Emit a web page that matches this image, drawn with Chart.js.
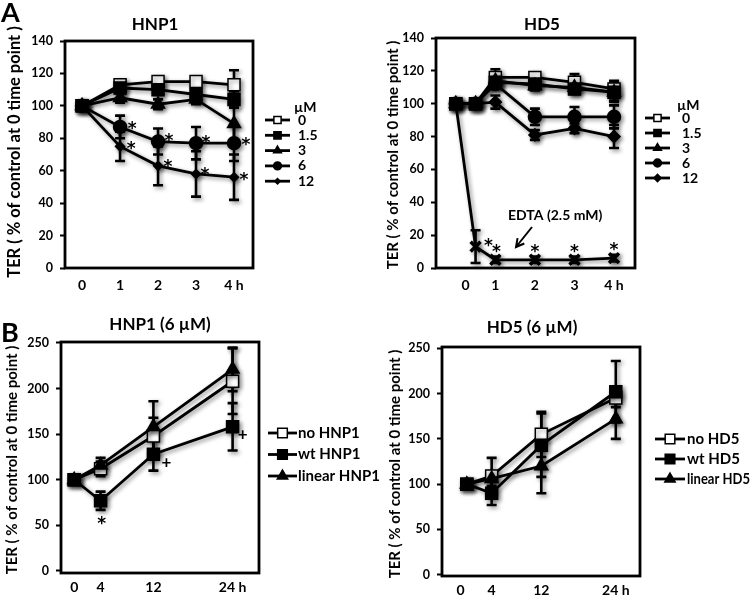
<!DOCTYPE html>
<html>
<head>
<meta charset="utf-8">
<script src="https://cdn.jsdelivr.net/npm/chart.js@4.4.1/dist/chart.umd.min.js"></script>
<style>
  html, body { margin: 0; padding: 0; background: #fff; }
  body { width: 751px; height: 603px; position: relative; overflow: hidden; }
  canvas { position: absolute; }
</style>
</head>
<body>
<canvas id="aHnp1" width="375" height="300" style="left:0;top:0"></canvas>
<canvas id="aHd5" width="376" height="300" style="left:375px;top:0"></canvas>
<canvas id="bHd5" width="376" height="303" style="left:375px;top:300px"></canvas>
<canvas id="bHnp1" width="392" height="303" style="left:0;top:300px"></canvas>
<script>
// ---- data ----
const concLabels = ['0', '1.5', '3', '6', '12'];
const yTicksA = [0, 20, 40, 60, 80, 100, 120, 140];
const yTicksB = [0, 50, 100, 150, 200, 250];

// A, HNP1 (hours)
const aHnp1Hours = [0, 1, 2, 3, 4];
const aHnp1Ticks = [0, 1, 2, 3, 4];
const aHnp1TickLabels = ['0', '1', '2', '3', '4 h'];
const aHnp1_0 = [100, 113, 115, 115, 113];
const aHnp1_0Err = [0, 2, 2, 2, 9];
const aHnp1_15 = [100, 111, 110, 107, 104];
const aHnp1_15Err = [0, 3, 3, 3, 5];
const aHnp1_3 = [100, 105, 101, 104, 89];
const aHnp1_3Err = [0, 3, 3, 3, 10];
const aHnp1_6 = [100, 87, 78, 77, 77];
const aHnp1_6Err = [0, 7, 8, 10, 11];
const aHnp1_6Sig = ['', '*', '*', '*', '*'];
const aHnp1_12 = [100, 75, 63, 58, 56];
const aHnp1_12Err = [0, 9, 12, 14, 14];
const aHnp1_12Sig = ['', '*', '*', '*', '*'];

// A, HD5 (hours)
const aHd5Hours = [0, 0.5, 1, 2, 3, 4];
const aHd5Ticks = [0.25, 1, 2, 3, 4];
const aHd5TickLabels = ['0', '1', '2', '3', '4 h'];
const aHd5_0 = [100, 100, 116, 116, 113, 109];
const aHd5_0Err = [0, 0, 5, 2, 5, 5];
const aHd5_15 = [100, 100, 113, 112, 109, 107];
const aHd5_15Err = [0, 0, 3, 3, 3, 6];
const aHd5_3 = [100, 100, 114, 111, 110, 107];
const aHd5_3Err = [0, 0, 3, 3, 3, 5];
const aHd5_6 = [100, 100, 112, 92, 92, 92];
const aHd5_6Err = [0, 0, 3, 5, 6, 7];
const aHd5_12 = [100, 100, 101, 81, 85, 80];
const aHd5_12Err = [0, 0, 4, 3, 3, 7];
const aEdta = [100, 13, 5, 5, 5, 6];
const aEdtaErr = [0, 10, 2, 2, 2, 2];
const aEdtaSig = ['', '*', '*', '*', '*', '*'];

// B (hours)
const bHours = [0, 4, 12, 24];
const bHnp1Ticks = [0, 4, 12, 24];
const bHd5Ticks = [-1, 4, 12, 24];
const bTickLabels = ['0', '4', '12', '24 h'];
const bNoHnp1 = [100, 112, 148, 208];
const bNoHnp1Err = [0, 8, 20, 36];
const bWtHnp1 = [100, 77, 128, 158];
const bWtHnp1Err = [0, 10, 18, 26];
const bWtHnp1Sig = ['', '*', '+', '+'];
const bLinHnp1 = [100, 116, 158, 221];
const bLinHnp1Err = [0, 8, 28, 24];
const bNoHd5 = [100, 109, 155, 195];
const bNoHd5Err = [0, 20, 25, 10];
const bWtHd5 = [100, 90, 143, 202];
const bWtHd5Err = [0, 13, 35, 34];
const bLinHd5 = [100, 106, 120, 172];
const bLinHd5Err = [0, 8, 30, 22];

const Y_TITLE = 'TER ( % of control at 0 time point )';

Chart.defaults.font.family = 'Lato';
Chart.defaults.color = '#000';

const markers = {
  open:     { pointStyle: 'rect', fill: '#fff', radius: 8.5 },
  square:   { pointStyle: 'rect', fill: '#000', radius: 8.5 },
  triangle: { pointStyle: 'triangle', fill: '#000', radius: 7.5 },
  circle:   { pointStyle: 'circle', fill: '#000', radius: 6.5 },
  diamond:  { pointStyle: 'rectRot', fill: '#000', radius: 6 },
  cross:    { pointStyle: 'crossRot', fill: '#000', radius: 7 }
};

function series(label, xs, ys, err, marker, order, extra) {
  const m = markers[marker];
  return Object.assign({
    label,
    data: xs.map((x, i) => ({ x, y: ys[i] })),
    errors: err,
    order,
    showLine: true,
    borderColor: '#000',
    borderWidth: 2.8,
    pointStyle: m.pointStyle,
    pointRadius: m.radius,
    pointHoverRadius: m.radius,
    pointBackgroundColor: m.fill,
    pointBorderColor: '#000',
    pointBorderWidth: marker === 'cross' ? 3.5 : 1.5
  }, extra || {});
}

const figurePlugin = {
  id: 'figure',
  beforeDatasetsDraw(chart) {
    const ctx = chart.ctx, xs = chart.scales.x, ys = chart.scales.y;
    ctx.save();
    ctx.shadowColor = 'rgba(0,0,0,0.45)';
    ctx.shadowBlur = 4;
    ctx.shadowOffsetX = 2;
    ctx.shadowOffsetY = 2;
    // error bars, behind the markers
    ctx.strokeStyle = '#000';
    ctx.lineWidth = 2.6;
    chart.data.datasets.forEach(ds => {
      (ds.errors || []).forEach((e, i) => {
        if (!e) return;
        const p = ds.data[i];
        const x = xs.getPixelForValue(p.x);
        const y1 = ys.getPixelForValue(p.y + e);
        const y2 = ys.getPixelForValue(p.y - e);
        ctx.beginPath();
        ctx.moveTo(x, y1); ctx.lineTo(x, y2);
        ctx.moveTo(x - 5, y1); ctx.lineTo(x + 5, y1);
        ctx.moveTo(x - 5, y2); ctx.lineTo(x + 5, y2);
        ctx.stroke();
      });
    });
  },
  afterDatasetsDraw(chart) {
    chart.ctx.restore();
  },
  afterDraw(chart, args, o) {
    const ctx = chart.ctx, a = chart.chartArea;
    const xs = chart.scales.x, ys = chart.scales.y;
    ctx.save();
    ctx.strokeStyle = '#000';
    ctx.fillStyle = '#000';
    ctx.lineWidth = 2.8;
    ctx.strokeRect(a.left, a.top, a.right - a.left, a.bottom - a.top);

    (o.texts || []).forEach(t => {
      ctx.save();
      ctx.font = t.font;
      ctx.textAlign = t.align || 'center';
      ctx.textBaseline = 'middle';
      if (t.rotate) {
        ctx.translate(t.x, t.y);
        ctx.rotate(-Math.PI / 2);
        ctx.fillText(t.text, 0, 0);
      } else {
        ctx.fillText(t.text, t.x, t.y);
      }
      ctx.restore();
    });

    // legend: line + marker + label
    const L = o.legend;
    L.items.forEach((di, k) => {
      const ds = chart.data.datasets[di];
      const y = L.y + k * L.dy;
      ctx.lineWidth = 2.8;
      ctx.beginPath(); ctx.moveTo(L.x0, y); ctx.lineTo(L.x1, y); ctx.stroke();
      ctx.fillStyle = ds.pointBackgroundColor;
      ctx.lineWidth = 1.5;
      Chart.helpers.drawPoint(ctx, {
        pointStyle: ds.pointStyle, rotation: 0,
        radius: ds.pointRadius * L.scale, borderWidth: 1.5
      }, (L.x0 + L.x1) / 2, y);
      ctx.fillStyle = '#000';
      ctx.font = L.font;
      ctx.textAlign = 'left';
      ctx.textBaseline = 'middle';
      if (L.maxWidth) ctx.fillText(ds.label, L.labelX, y, L.maxWidth);
      else ctx.fillText(ds.label, L.labelX, y);
    });

    // significance marks next to points
    (o.marks || []).forEach(m => {
      const ds = chart.data.datasets[m.ds];
      ds.sig.forEach((s, i) => {
        if (!s) return;
        const p = ds.data[i];
        const off = m.offsets[i];
        const star = s === '*';
        const size = 17;
        ctx.font = star ? 'bold 17px "DejaVu Sans"' : 'bold 17px Lato';
        ctx.textAlign = 'center';
        ctx.textBaseline = 'alphabetic';
        const lift = star ? 0.58 : 0.33;
        ctx.fillText(s, xs.getPixelForValue(p.x) + off[0], ys.getPixelForValue(p.y) + off[1] + lift * size);
      });
    });

    if (o.arrow) {
      const [x1, y1, x2, y2] = o.arrow;
      const ang = Math.atan2(y2 - y1, x2 - x1);
      ctx.lineWidth = 2;
      ctx.beginPath();
      ctx.moveTo(x1, y1); ctx.lineTo(x2, y2);
      ctx.moveTo(x2 - 9 * Math.cos(ang - 0.5), y2 - 9 * Math.sin(ang - 0.5));
      ctx.lineTo(x2, y2);
      ctx.lineTo(x2 - 9 * Math.cos(ang + 0.5), y2 - 9 * Math.sin(ang + 0.5));
      ctx.stroke();
    }
    ctx.restore();
  }
};

function makeChart(id, datasets, o) {
  const canvas = document.getElementById(id);
  const W = canvas.width, H = canvas.height, a = o.area;
  return new Chart(canvas.getContext('2d'), {
    type: 'scatter',
    data: { datasets },
    options: {
      responsive: false,
      animation: false,
      events: [],
      layout: { padding: { left: a.left - 40, top: a.top, right: W - a.right, bottom: H - a.bottom - 24 } },
      plugins: { legend: { display: false }, tooltip: { enabled: false }, figure: o },
      scales: {
        x: {
          type: 'linear', min: o.xMin, max: o.xMax,
          afterBuildTicks: s => { s.ticks = o.xTicks.map(v => ({ value: v })); },
          afterFit: s => { s.height = 24; },
          grid: { display: false, drawTicks: false },
          border: { display: false },
          ticks: { callback: (v, i) => o.xLabels[i], padding: o.xPad, autoSkip: false, maxRotation: 0,
                   font: { size: 14, weight: 'bold' }, color: '#000' }
        },
        y: {
          type: 'linear', min: o.yMin, max: o.yMax,
          afterBuildTicks: s => { s.ticks = o.yTicks.map(v => ({ value: v })); },
          afterFit: s => { s.width = 40; },
          grid: { drawOnChartArea: false, drawTicks: true, tickLength: 5, tickWidth: 2, color: '#000' },
          border: { display: false },
          ticks: { padding: 7, font: { size: 12.5, weight: 'bold' }, color: '#000' }
        }
      }
    },
    plugins: [figurePlugin]
  });
}

// ---- A: HNP1 ----
makeChart('aHnp1', [
  series(concLabels[0], aHnp1Hours, aHnp1_0, aHnp1_0Err, 'open', 4),
  series(concLabels[1], aHnp1Hours, aHnp1_15, aHnp1_15Err, 'square', 0),
  series(concLabels[2], aHnp1Hours, aHnp1_3, aHnp1_3Err, 'triangle', 1),
  series(concLabels[3], aHnp1Hours, aHnp1_6, aHnp1_6Err, 'circle', 2, { sig: aHnp1_6Sig }),
  series(concLabels[4], aHnp1Hours, aHnp1_12, aHnp1_12Err, 'diamond', 3, { sig: aHnp1_12Sig, pointRadius: 4.5 })
], {
  area: { left: 65, top: 41, right: 253, bottom: 268 },
  xMin: -0.45, xMax: 4.5, xTicks: aHnp1Ticks, xLabels: aHnp1TickLabels, xPad: 9,
  yMin: 0, yMax: 140, yTicks: yTicksA,
  texts: [
    { text: 'A', x: 1, y: 13, font: 'bold 27px Lato', align: 'left' },
    { text: 'HNP1', x: 155, y: 25, font: 'bold 17px Lato' },
    { text: Y_TITLE, x: 15, y: 152, font: 'bold 16.5px Lato', rotate: true },
    { text: '\u00b5M', x: 294, y: 107, font: 'bold 14px Lato', align: 'left' }
  ],
  legend: { items: [0, 1, 2, 3, 4], x0: 265, x1: 290, y: 120, dy: 15.3, labelX: 298, scale: 0.6, font: 'bold 14px Lato' },
  marks: [
    { ds: 3, offsets: [[0, 0], [12, -3], [11, -5], [10, -5], [12, -3]] },
    { ds: 4, offsets: [[0, 0], [11, -2], [10, -4], [9, -4], [10, -2]] }
  ]
});

// ---- A: HD5 ----
makeChart('aHd5', [
  series(concLabels[0], aHd5Hours, aHd5_0, aHd5_0Err, 'open', 4),
  series(concLabels[1], aHd5Hours, aHd5_15, aHd5_15Err, 'square', 0),
  series(concLabels[2], aHd5Hours, aHd5_3, aHd5_3Err, 'triangle', 1),
  series(concLabels[3], aHd5Hours, aHd5_6, aHd5_6Err, 'circle', 2),
  series(concLabels[4], aHd5Hours, aHd5_12, aHd5_12Err, 'diamond', 3),
  series('EDTA', aHd5Hours, aEdta, aEdtaErr, 'cross', 6, { sig: aEdtaSig })
], {
  area: { left: 61, top: 38, right: 260, bottom: 268 },
  xMin: -0.5, xMax: 4.53, xTicks: aHd5Ticks, xLabels: aHd5TickLabels, xPad: 9,
  yMin: 0, yMax: 140, yTicks: yTicksA,
  texts: [
    { text: 'HD5', x: 167, y: 25, font: 'bold 17px Lato' },
    { text: Y_TITLE, x: 18, y: 155, font: 'bold 15px Lato', rotate: true },
    { text: '\u00b5M', x: 302, y: 105, font: 'bold 14px Lato', align: 'left' },
    { text: 'EDTA (2.5 mM)', x: 133, y: 215, font: 'bold 14px Lato', align: 'left' }
  ],
  legend: { items: [0, 1, 2, 3, 4], x0: 270, x1: 295, y: 118, dy: 15, labelX: 307, scale: 0.6, font: 'bold 14px Lato' },
  marks: [
    { ds: 5, offsets: [[0, 0], [13, -6], [1, -13], [0, -13], [0, -13], [0, -13]] }
  ],
  arrow: [157, 227, 141, 247]
});

// ---- B: HNP1 (6 uM) ----
makeChart('bHnp1', [
  series('no HNP1', bHours, bNoHnp1, bNoHnp1Err, 'open', 2),
  series('wt HNP1', bHours, bWtHnp1, bWtHnp1Err, 'square', 0, { sig: bWtHnp1Sig }),
  series('linear HNP1', bHours, bLinHnp1, bLinHnp1Err, 'triangle', 1)
], {
  area: { left: 61, top: 42, right: 259, bottom: 273 },
  xMin: -2, xMax: 28, xTicks: bHnp1Ticks, xLabels: bTickLabels, xPad: 6,
  yMin: -2.2, yMax: 251, yTicks: yTicksB,
  texts: [
    { text: 'B', x: 1, y: 33, font: 'bold 27px Lato', align: 'left' },
    { text: 'HNP1 (6 \u00b5M)', x: 160, y: 25, font: 'bold 17px Lato' },
    { text: Y_TITLE, x: 12, y: 160, font: 'bold 15px Lato', rotate: true }
  ],
  legend: { items: [0, 1, 2], x0: 268, x1: 297, y: 133, dy: 21.5, labelX: 298, scale: 0.8, font: 'bold 15px Lato' },
  marks: [
    { ds: 1, offsets: [[0, 0], [1, 18], [13, 8], [10, 8]] }
  ]
});

// ---- B: HD5 (6 uM) ----
makeChart('bHd5', [
  series('no HD5', bHours, bNoHd5, bNoHd5Err, 'open', 2),
  series('wt HD5', bHours, bWtHd5, bWtHd5Err, 'square', 0),
  series('linear HD5', bHours, bLinHd5, bLinHd5Err, 'triangle', 1)
], {
  area: { left: 67, top: 47, right: 265, bottom: 276 },
  xMin: -4, xMax: 27.9, xTicks: bHd5Ticks, xLabels: bTickLabels, xPad: 6,
  yMin: -1.4, yMax: 251.4, yTicks: yTicksB,
  texts: [
    { text: 'HD5 (6 \u00b5M)', x: 157, y: 28, font: 'bold 17px Lato' },
    { text: Y_TITLE, x: 20, y: 164, font: 'bold 15px Lato', rotate: true }
  ],
  legend: { items: [0, 1, 2], x0: 280, x1: 310, y: 139, dy: 20, labelX: 312, scale: 0.8, font: 'bold 15px Lato', maxWidth: 63 }
});
</script>
</body>
</html>
